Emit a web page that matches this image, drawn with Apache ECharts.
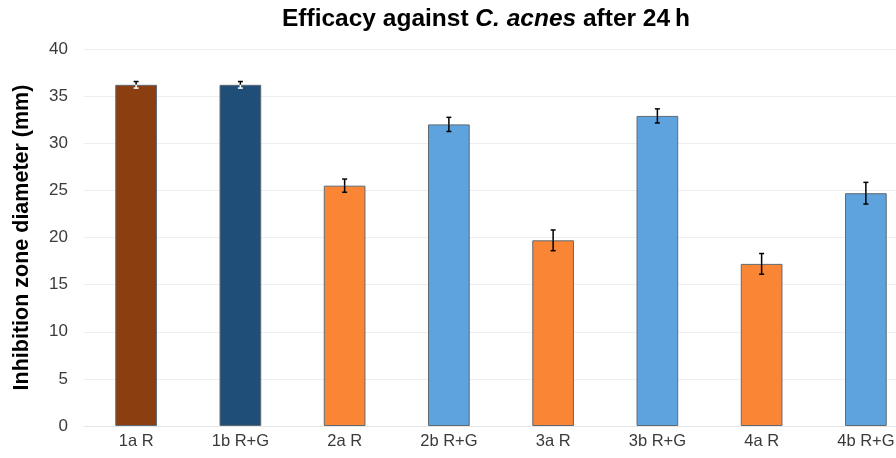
<!DOCTYPE html>
<html><head><meta charset="utf-8">
<script src="https://cdn.jsdelivr.net/npm/echarts@6/dist/echarts.min.js"></script>
<style>html,body{margin:0;padding:0;background:#fff;overflow:hidden;width:896px;height:458px}#c{width:930px;height:458px}</style>
</head><body><div id="c"></div>
<script>
const categories = ['1a R','1b R+G','2a R','2b R+G','3a R','3b R+G','4a R','4b R+G'];
const values = [36.2, 36.2, 25.5, 32.0, 19.7, 32.9, 17.2, 24.7];
const errors = [0.35, 0.35, 0.7, 0.75, 1.1, 0.75, 1.1, 1.15];
const colors = ['#8B3E0F','#1F4E79','#F98535','#5EA3DE','#F98535','#5EA3DE','#F98535','#5EA3DE'];
const lowerErrColors = ['#fff','#fff','#000','#000','#000','#000','#000','#000'];
const yTicks = [0,5,10,15,20,25,30,35,40];

const chart = echarts.init(document.getElementById('c'));
chart.setOption({
  animation:false,
  title:{
    text:'{b|Efficacy against }{i|C. acnes}{b| after 24\u2009h}',
    left:481, top:2, textAlign:'center',
    textStyle:{rich:{
      b:{fontFamily:'Liberation Sans, Arial',fontWeight:'bold',fontSize:24.5,color:'#000'},
      i:{fontFamily:'Liberation Sans, Arial',fontWeight:'bold',fontStyle:'italic',fontSize:24.5,color:'#000'}
    }}
  },
  grid:{left:84, top:49, width:834, height:377},
  xAxis:{type:'category', data:categories,
    axisLine:{show:true,lineStyle:{color:'#e6e6e6'}}, axisTick:{show:false},
    axisLabel:{fontFamily:'Liberation Sans, Arial',fontSize:16.5,color:'#3a3a3a',margin:7}},
  yAxis:{type:'value', min:yTicks[0], max:yTicks[yTicks.length-1], interval:5,
    name:'Inhibition zone diameter (mm)', nameLocation:'middle', nameGap:51,
    nameTextStyle:{fontFamily:'Liberation Sans, Arial',fontWeight:'bold',fontSize:21.5,color:'#000'},
    splitLine:{lineStyle:{color:'#eeeeee'}},
    axisLabel:{fontFamily:'Liberation Sans, Arial',fontSize:17,color:'#3a3a3a',margin:16}},
  series:[
    {type:'bar', barWidth:'40%',
     data:values.map((v,i)=>({value:v,itemStyle:{color:colors[i],borderColor:'#5f6a72',borderWidth:1}}))},
    {type:'custom', z:10,
     data:values.map((v,i)=>[i,v-errors[i],v+errors[i],v]),
     renderItem:function(params,api){
       const i=params.dataIndex;
       const x=api.value(0);
       const lo=api.coord([x,api.value(1)]);
       const hi=api.coord([x,api.value(2)]);
       const mid=api.coord([x,api.value(3)]);
       const w=2.5;
       const st={stroke:'#000',lineWidth:1.5};
       const st2={stroke:lowerErrColors[i],lineWidth:1.5};
       return {type:'group',children:[
         {type:'line',shape:{x1:mid[0],y1:mid[1],x2:hi[0],y2:hi[1]},style:st},
         {type:'line',shape:{x1:lo[0],y1:lo[1],x2:mid[0],y2:mid[1]},style:st2},
         {type:'line',shape:{x1:lo[0]-w,y1:lo[1],x2:lo[0]+w,y2:lo[1]},style:st2},
         {type:'line',shape:{x1:hi[0]-w,y1:hi[1],x2:hi[0]+w,y2:hi[1]},style:st}
       ]};
     }}
  ]
});
</script></body></html>
